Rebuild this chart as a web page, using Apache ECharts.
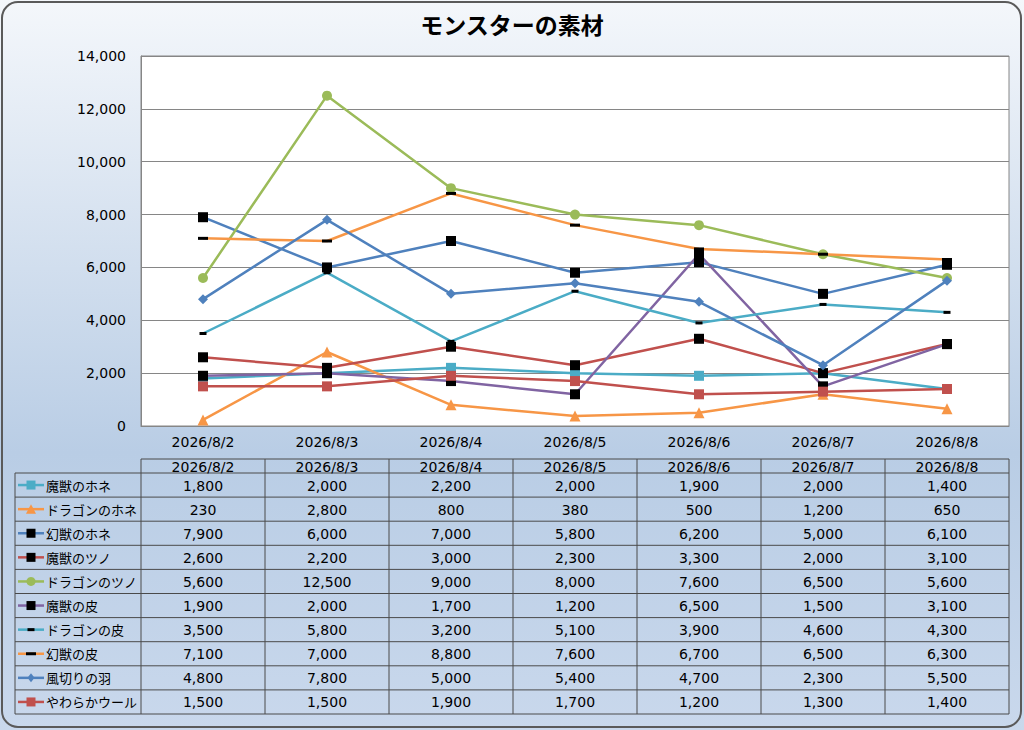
<!DOCTYPE html>
<html lang="ja">
<head>
<meta charset="UTF-8">
<title>モンスターの素材</title>
<script src="https://cdn.jsdelivr.net/npm/echarts@6/dist/echarts.min.js"></script>
<style>
  html, body { margin: 0; padding: 0; background: #fff; }
  #main { width: 1024px; height: 730px; }
</style>
</head>
<body>
<div id="main"></div>
<script>
// 日付（カテゴリ）
var days = ['2026/8/2', '2026/8/3', '2026/8/4', '2026/8/5', '2026/8/6', '2026/8/7', '2026/8/8'];
var yTicks = [0, 2000, 4000, 6000, 8000, 10000, 12000, 14000];

// 素材ごとの値
var majuuHone   = [1800, 2000, 2200, 2000, 1900, 2000, 1400];
var dragonHone  = [230, 2800, 800, 380, 500, 1200, 650];
var genjuuHone  = [7900, 6000, 7000, 5800, 6200, 5000, 6100];
var majuuTsuno  = [2600, 2200, 3000, 2300, 3300, 2000, 3100];
var dragonTsuno = [5600, 12500, 9000, 8000, 7600, 6500, 5600];
var majuuKawa   = [1900, 2000, 1700, 1200, 6500, 1500, 3100];
var dragonKawa  = [3500, 5800, 3200, 5100, 3900, 4600, 4300];
var genjuuKawa  = [7100, 7000, 8800, 7600, 6700, 6500, 6300];
var kazakiri    = [4800, 7800, 5000, 5400, 4700, 2300, 5500];
var wool        = [1500, 1500, 1900, 1700, 1200, 1300, 1400];

var jpFont = '"Noto Sans CJK JP", sans-serif';
var numFont = '"DejaVu Sans", "Noto Sans CJK JP", sans-serif';

// 系列の見た目
var seriesDefs = [
  { name: '魔獣のホネ',     data: majuuHone,   line: '#4BACC6', mark: '#4BACC6', symbol: 'rect',     size: 10 },
  { name: 'ドラゴンのホネ', data: dragonHone,  line: '#F79646', mark: '#F79646', symbol: 'triangle', size: 11 },
  { name: '幻獣のホネ',     data: genjuuHone,  line: '#4F81BD', mark: '#000000', symbol: 'rect',     size: 10 },
  { name: '魔獣のツノ',     data: majuuTsuno,  line: '#C0504D', mark: '#000000', symbol: 'rect',     size: 10 },
  { name: 'ドラゴンのツノ', data: dragonTsuno, line: '#9BBB59', mark: '#9BBB59', symbol: 'circle',   size: 10 },
  { name: '魔獣の皮',       data: majuuKawa,   line: '#8064A2', mark: '#000000', symbol: 'rect',     size: 10 },
  { name: 'ドラゴンの皮',   data: dragonKawa,  line: '#4BACC6', mark: '#000000', symbol: 'rect',     size: [7, 3] },
  { name: '幻獣の皮',       data: genjuuKawa,  line: '#F79646', mark: '#000000', symbol: 'rect',     size: [10, 3] },
  { name: '風切りの羽',     data: kazakiri,    line: '#4F81BD', mark: '#4F81BD', symbol: 'diamond',  size: 10 },
  { name: 'やわらかウール', data: wool,        line: '#C0504D', mark: '#C0504D', symbol: 'rect',     size: 10 }
];

var W = 1024, H = 730;
var plotLeft = 141, plotRight = 1009, plotTop = 56, plotBottom = 426;
var tableLeft = 15, headTop = 459, headBottom = 473, rowH = 24.1;
var colW = (plotRight - plotLeft) / days.length;
var lineColor = '#4a4a4a';

function fmt(v) { return v.toLocaleString('en-US'); }

var graphics = [];
function add(g) { g.silent = true; graphics.push(g); }
function hline(x1, x2, y) { add({ type: 'line', shape: { x1: x1, y1: y, x2: x2, y2: y }, style: { stroke: lineColor, lineWidth: 1 } }); }
function vline(x, y1, y2) { add({ type: 'line', shape: { x1: x, y1: y1, x2: x, y2: y2 }, style: { stroke: lineColor, lineWidth: 1 } }); }

// 外枠
add({
  type: 'rect', z: 100,
  shape: { x: 2, y: 2, width: W - 5, height: H - 5, r: 16 },
  style: { fill: 'none', stroke: '#5a5a5a', lineWidth: 2 }
});

// データ表の罫線
var tableBottom = headBottom + rowH * seriesDefs.length;
hline(plotLeft, plotRight, headTop);
for (var r = 0; r <= seriesDefs.length; r++) hline(tableLeft, plotRight, headBottom + rowH * r);
vline(tableLeft, headBottom, tableBottom);
for (var c = 0; c <= days.length; c++) vline(plotLeft + colW * c, headTop, tableBottom);

// 見出し
days.forEach(function (d, i) {
  add({
    type: 'text',
    x: plotLeft + colW * (i + 0.5), y: (headTop + headBottom) / 2 + 0.5,
    style: { text: d, font: '14px ' + numFont, fill: '#000', align: 'center', verticalAlign: 'middle' }
  });
});

// 凡例キーと値
seriesDefs.forEach(function (s, r) {
  var cy = headBottom + rowH * (r + 0.5);
  var kx1 = tableLeft + 3, kx2 = tableLeft + 29, kc = (kx1 + kx2) / 2;
  add({ type: 'line', shape: { x1: kx1, y1: cy, x2: kx2, y2: cy }, style: { stroke: s.line, lineWidth: 2.5 } });
  var m = 9;
  if (s.symbol === 'circle') {
    add({ type: 'circle', shape: { cx: kc, cy: cy, r: m / 2 }, style: { fill: s.mark } });
  } else if (s.symbol === 'triangle') {
    add({ type: 'polygon', shape: { points: [[kc, cy - m / 2 - 0.5], [kc + m / 2 + 0.5, cy + m / 2], [kc - m / 2 - 0.5, cy + m / 2]] }, style: { fill: s.mark } });
  } else if (s.symbol === 'diamond') {
    add({ type: 'polygon', shape: { points: [[kc, cy - m / 2], [kc + m / 2 - 1, cy], [kc, cy + m / 2], [kc - m / 2 + 1, cy]] }, style: { fill: s.mark } });
  } else {
    var sw = Array.isArray(s.size) ? s.size[0] : m, sh = Array.isArray(s.size) ? s.size[1] : m;
    add({ type: 'rect', shape: { x: kc - sw / 2, y: cy - sh / 2, width: sw, height: sh }, style: { fill: s.mark } });
  }
  add({
    type: 'text', x: kx2 + 2, y: cy,
    style: { text: s.name, font: '13px ' + jpFont, fill: '#000', align: 'left', verticalAlign: 'middle' }
  });
  s.data.forEach(function (v, i) {
    add({
      type: 'text',
      x: plotLeft + colW * (i + 0.5), y: cy + 0.5,
      style: { text: fmt(v), font: '14px ' + numFont, fill: '#000', align: 'center', verticalAlign: 'middle' }
    });
  });
});

var chart = echarts.init(document.getElementById('main'), null, { renderer: 'svg' });

var option = {
  animation: false,
  backgroundColor: {
    type: 'linear', x: 0, y: 0, x2: 0, y2: 1,
    colorStops: [
      { offset: 0, color: '#F4F7FB' },
      { offset: 0.62, color: '#B9CDE5' },
      { offset: 1, color: '#C9D8EC' }
    ]
  },
  textStyle: { fontFamily: numFont },
  title: {
    text: 'モンスターの素材',
    left: 'center', top: 7,
    textStyle: { fontFamily: jpFont, fontSize: 23, fontWeight: 'bold', color: '#000' }
  },
  grid: {
    left: plotLeft, right: W - plotRight, top: plotTop, bottom: H - plotBottom,
    show: true, backgroundColor: '#fff', borderColor: '#868686', borderWidth: 1
  },
  xAxis: {
    type: 'category',
    data: days,
    boundaryGap: true,
    axisLine: { lineStyle: { color: '#868686' } },
    axisTick: { show: false },
    axisLabel: { color: '#000', fontSize: 14, margin: 9, fontFamily: numFont }
  },
  yAxis: {
    type: 'value',
    min: yTicks[0], max: yTicks[yTicks.length - 1], interval: yTicks[1] - yTicks[0],
    axisLine: { show: true, lineStyle: { color: '#868686' } },
    axisTick: { show: false },
    splitLine: { lineStyle: { color: '#868686', width: 1 } },
    axisLabel: { color: '#000', fontSize: 14, margin: 15, fontFamily: numFont,
      formatter: function (v) { return fmt(v); } }
  },
  series: seriesDefs.map(function (s) {
    return {
      name: s.name,
      type: 'line',
      data: s.data,
      symbol: s.symbol,
      symbolSize: s.size,
      showAllSymbol: true,
      lineStyle: { color: s.line, width: 2.5 },
      itemStyle: { color: s.mark, borderWidth: 0 },
      emphasis: { disabled: true }
    };
  }),
  graphic: graphics
};

chart.setOption(option);
</script>
</body>
</html>
